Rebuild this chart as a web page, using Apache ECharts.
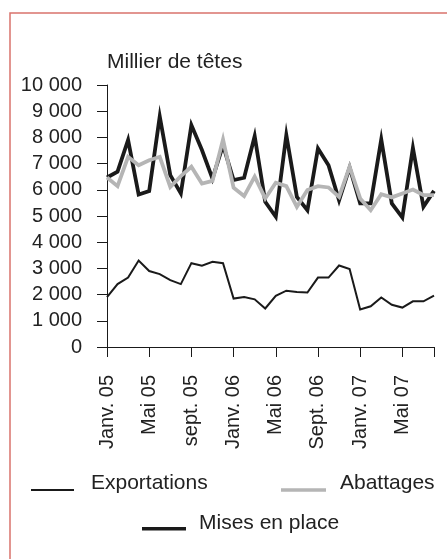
<!DOCTYPE html>
<html><head><meta charset="utf-8">
<script src="https://cdn.jsdelivr.net/npm/echarts@6/dist/echarts.min.js"></script>
<style>html,body{margin:0;padding:0;background:#fff}#c{width:447px;height:559px}</style>
</head><body><div id="c"></div>
<script>
var months = ['Janv. 05','Févr. 05','Mars 05','Avr. 05','Mai 05','Juin 05','Juil. 05','Août 05','sept. 05','Oct. 05','Nov. 05','Déc. 05',
  'Janv. 06','Févr. 06','Mars 06','Avr. 06','Mai 06','Juin 06','Juil. 06','Août 06','Sept. 06','Oct. 06','Nov. 06','Déc. 06',
  'Janv. 07','Févr. 07','Mars 07','Avr. 07','Mai 07','Juin 07','Juil. 07','Août 07'];
var exportations = [1900,2400,2650,3300,2900,2780,2550,2400,3200,3100,3250,3200,1850,1910,1820,1470,1950,2150,2100,2080,2650,2650,3110,2980,1430,1555,1890,1610,1505,1745,1745,1960];
var abattages = [6470,6140,7260,6940,7130,7260,6110,6520,6880,6240,6340,7920,6080,5760,6500,5670,6270,6140,5350,5990,6140,6090,5730,6880,5670,5220,5830,5710,5860,6010,5800,5800];
var misesEnPlace = [6470,6690,7900,5820,5950,8800,6560,5860,8470,7520,6430,7700,6370,6460,8050,5540,4970,8090,5730,5220,7580,6940,5600,6850,5480,5480,7920,5480,4940,7600,5350,5960];
var unitLabel = 'Millier de têtes';

var FONT = 'Liberation Sans, Arial, sans-serif';
var TXT = '#222';
var chart = echarts.init(document.getElementById('c'), null, {renderer:'canvas'});
function fmt(v){ var s=String(v); return s.length>3 ? s.slice(0,s.length-3)+' '+s.slice(-3) : s; }
function legendItem(name, left, top, w, y0, y1, len){
  return {
    data:[name], left:left, top:top, orient:'horizontal',
    itemWidth:w, itemHeight:20, padding:0,
    icon:'path://M0,0 M'+w+',20 M0,'+y0+' L'+len+','+y0+' L'+len+','+y1+' L0,'+y1+' Z',
    itemStyle:{borderWidth:0},
    textStyle:{fontFamily:FONT, fontSize:21, color:TXT},
    selectedMode:false
  };
}
chart.setOption({
  animation:false,
  graphic:[
    {type:'rect', shape:{x:10, y:13, width:480, height:600}, style:{fill:'none', stroke:'#d9736c', lineWidth:1.5}, silent:true},
    {type:'text', left:107, top:52, style:{text:unitLabel, font:'21px '+FONT, fill:TXT}}
  ],
  grid:{left:107, top:85, right:13, bottom:212, containLabel:false},
  legend:[
    legendItem('Exportations', 31, 473, 55, 15.5, 17.5, 43),
    legendItem('Abattages', 281, 473, 54, 14.8, 18.3, 45),
    legendItem('Mises en place', 142, 513, 52, 13.6, 17.1, 44)
  ],
  xAxis:{
    type:'category', data:months, boundaryGap:false,
    axisLine:{lineStyle:{color:'#1a1a1a', width:1}},
    axisTick:{length:10, lineStyle:{color:'#1a1a1a'}, interval:function(i){return i%4===0 || i===months.length-1;}},
    axisLabel:{rotate:90, margin:28, interval:function(i){return i%4===0;}, fontFamily:FONT, fontSize:20, color:TXT},
    splitLine:{show:false}
  },
  yAxis:{
    type:'value', min:0, max:10000, interval:1000,
    axisLine:{show:true, lineStyle:{color:'#1a1a1a', width:1}},
    axisTick:{show:true, length:10, lineStyle:{color:'#1a1a1a'}},
    axisLabel:{margin:25, formatter:fmt, fontFamily:FONT, fontSize:20, color:TXT},
    splitLine:{show:false}
  },
  series:[
    {name:'Exportations', type:'line', data:exportations, symbol:'none', color:'#1a1a1a',
      lineStyle:{width:2, color:'#1a1a1a', join:'miter'}},
    {name:'Mises en place', type:'line', data:misesEnPlace, symbol:'none', color:'#1a1a1a',
      lineStyle:{width:3.8, color:'#1a1a1a', join:'miter'}},
    {name:'Abattages', type:'line', data:abattages, symbol:'none', color:'#b5b5b5',
      lineStyle:{width:3.8, color:'#b5b5b5', join:'miter'}}
  ]
});
</script></body></html>
